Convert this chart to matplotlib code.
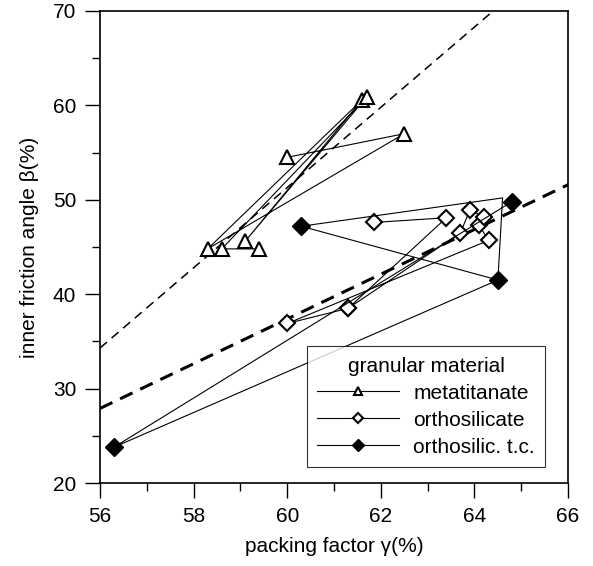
import matplotlib
matplotlib.use("Agg")
import matplotlib.pyplot as plt
import numpy as np

plt.rcParams['font.family'] = ['Liberation Sans', 'DejaVu Sans']

# metatitanate (open triangles), plotting order
meta_x = [60.0, 62.5, 58.3, 61.6, 59.1, 61.7, 58.6, 59.4]
meta_y = [54.5, 57.0, 44.8, 60.6, 45.6, 60.9, 44.8, 44.8]

# orthosilicate (open diamonds), plotting order
orth_x = [61.85, 63.4, 61.3, 60.0, 64.3, 64.1, 64.2, 63.9, 63.7, 61.3]
orth_y = [47.6, 48.1, 38.5, 36.9, 45.7, 47.3, 48.2, 48.9, 46.5, 38.5]

# orthosilic. t.c. (filled diamonds), plotting order
otc_x = [64.8, 56.3, 64.5, 60.3, 64.6, 64.5]
otc_y = [49.8, 23.8, 41.5, 47.2, 50.2, 41.5]
otc_marked = [0, 1, 2, 3]

# fitted lines (end points)
fit_meta_x = [56.0, 64.4]
fit_meta_y = [34.3, 70.0]
fit_orth_x = [56.0, 66.0]
fit_orth_y = [27.9, 51.6]

xticks = [56, 58, 60, 62, 64, 66]
yticks = [20, 30, 40, 50, 60, 70]

FS = 15

fig = plt.figure(figsize=(5.93, 5.66), dpi=100)
ax = fig.add_axes([0.1686, 0.1466, 0.7894, 0.834])

ax.plot(fit_meta_x, fit_meta_y, color='black', lw=1.1, ls=(0, (6, 4)))
ax.plot(fit_orth_x, fit_orth_y, color='black', lw=2.2, ls=(0, (4.5, 2.8)))

ax.plot(meta_x, meta_y, color='black', lw=0.8, marker='^', ms=10,
        mfc='white', mec='black', mew=1.5, label='metatitanate')
ax.plot(orth_x, orth_y, color='black', lw=0.8, marker='D', ms=8,
        mfc='white', mec='black', mew=1.5, label='orthosilicate')
ax.plot(otc_x, otc_y, color='black', lw=0.8, marker='D', ms=9.5,
        mfc='black', mec='black', markevery=otc_marked, label='orthosilic. t.c.')

ax.set_xlim(56, 66)
ax.set_ylim(20, 70)
ax.set_xticks(xticks)
ax.set_yticks(yticks)
ax.set_xticks(np.arange(57, 66, 2), minor=True)
ax.set_yticks(np.arange(25, 70, 10), minor=True)
ax.tick_params(which='major', direction='out', length=11, width=1, labelsize=FS, pad=6)
ax.tick_params(which='minor', direction='out', length=6, width=1)
for s in ax.spines.values():
    s.set_linewidth(1.2)

ax.set_xlabel('packing factor γ(%)', fontsize=FS, labelpad=8)
ax.set_ylabel('inner friction angle β(%)', fontsize=FS, labelpad=10)

leg = ax.legend(title='granular material', loc='lower right',
                bbox_to_anchor=(0.951, 0.034), fontsize=FS, title_fontsize=FS,
                frameon=True, fancybox=False, edgecolor='black',
                handlelength=3.9, handletextpad=0.7, markerscale=0.6,
                borderpad=0.5, labelspacing=0.38, borderaxespad=0.0)
leg.get_frame().set_linewidth(0.8)

fig.savefig('out.png', dpi=100)
